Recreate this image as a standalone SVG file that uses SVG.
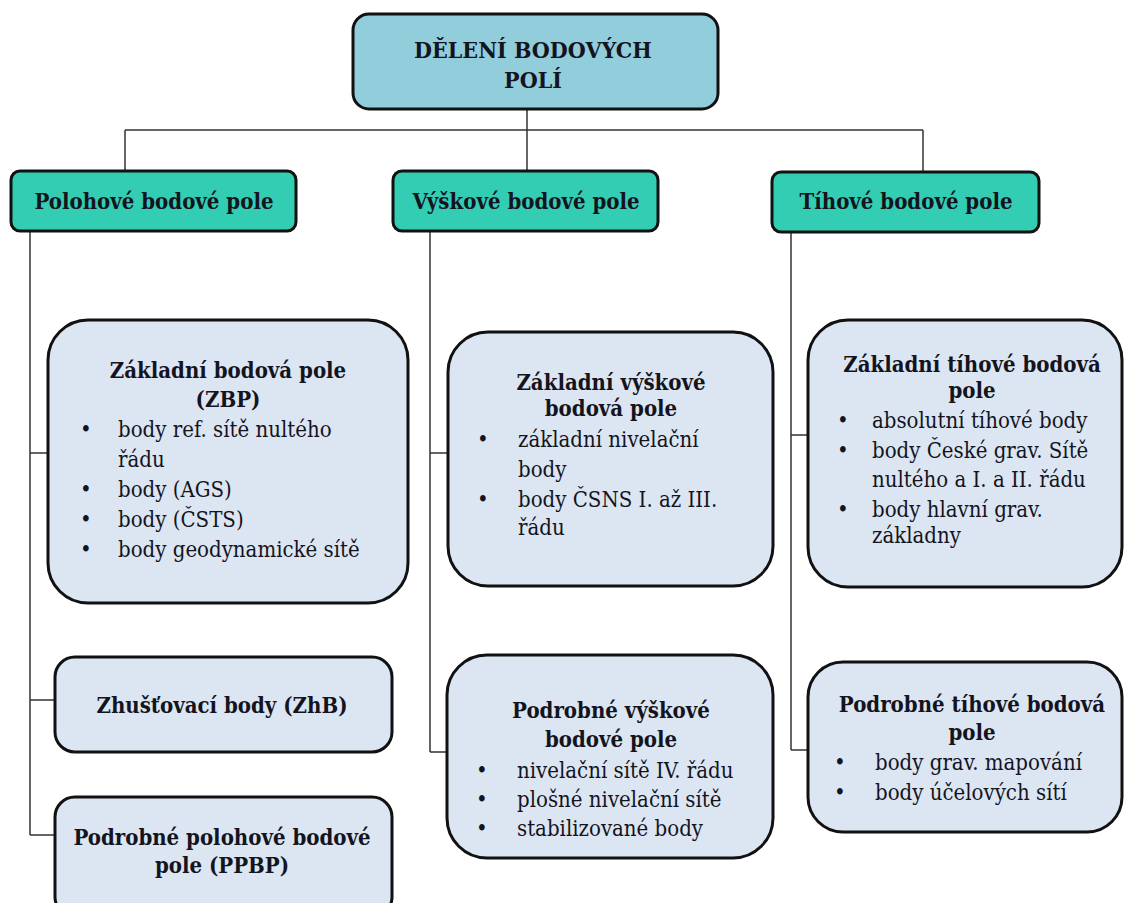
<svg xmlns="http://www.w3.org/2000/svg" width="1129" height="903" viewBox="0 0 1129 903">
<style>
.t{fill:#14141e;font-family:'DejaVu Serif Condensed','DejaVu Serif','Liberation Serif',serif}
.b{font-weight:bold;font-size:22px;text-anchor:middle}
.h{font-size:23px}
.r{font-size:22px}
.top{fill:#92cddc;stroke:#111;stroke-width:3}
.hdr{fill:#33cdb4;stroke:#111;stroke-width:3}
.box{fill:#dce6f2;stroke:#111;stroke-width:3}
.con{fill:none;stroke:#333;stroke-width:1.5}
</style>
<rect width="1129" height="903" fill="#fff"/>
<g id="connectors">
<path class="con" d="M527,110 V171 M125,130 H923 M125,130 V171 M923,130 V172"/>
<path class="con" d="M30,231 V835 M30,453 H48 M30,700 H55 M30,835 H55"/>
<path class="con" d="M430,231 V752 M430,453 H448 M430,752 H447"/>
<path class="con" d="M791,233 V750 M791,435 H808 M791,750 H808"/>
</g>
<g id="root">
<rect class="top" x="353" y="14" width="365" height="95" rx="16"/>
<text class="t b h" x="533" y="58">DĚLENÍ BODOVÝCH</text>
<text class="t b h" x="533" y="88">POLÍ</text>
</g>
<g id="polohove">
<rect class="hdr" x="11" y="171" width="285" height="60" rx="9"/>
<text class="t b" x="154" y="209">Polohové bodové pole</text>
</g>
<g id="vyskove">
<rect class="hdr" x="393" y="171" width="265" height="60" rx="9"/>
<text class="t b" x="526" y="209">Výškové bodové pole</text>
</g>
<g id="tihove">
<rect class="hdr" x="772" y="172" width="267" height="60" rx="9"/>
<text class="t b" x="906" y="209">Tíhové bodové pole</text>
</g>
<g id="zbp">
<rect class="box" x="48" y="320" width="360" height="283" rx="40"/>
<text class="t b" x="228" y="378">Základní bodová pole</text>
<text class="t b" x="228" y="407">(ZBP)</text>
<text class="t r" x="80" y="437">•</text><text class="t r" x="118" y="437">body ref. sítě nultého</text>
<text class="t r" x="118" y="467">řádu</text>
<text class="t r" x="80" y="497">•</text><text class="t r" x="118" y="497">body (AGS)</text>
<text class="t r" x="80" y="527">•</text><text class="t r" x="118" y="527">body (ČSTS)</text>
<text class="t r" x="80" y="557">•</text><text class="t r" x="118" y="557">body geodynamické sítě</text>
</g>
<g id="zhb">
<rect class="box" x="55" y="657" width="337" height="95" rx="20"/>
<text class="t b" x="222" y="713">Zhušťovací  body (ZhB)</text>
</g>
<g id="ppbp">
<rect class="box" x="55" y="797" width="337" height="120" rx="20"/>
<text class="t b" x="222" y="845">Podrobné polohové bodové</text>
<text class="t b" x="222" y="873">pole (PPBP)</text>
</g>
<g id="zvbp">
<rect class="box" x="448" y="332" width="325" height="254" rx="40"/>
<text class="t b" x="611" y="390">Základní výškové</text>
<text class="t b" x="611" y="416">bodová pole</text>
<text class="t r" x="477" y="447">•</text><text class="t r" x="518" y="447">základní nivelační</text>
<text class="t r" x="518" y="477">body</text>
<text class="t r" x="477" y="507">•</text><text class="t r" x="518" y="507">body ČSNS I. až III.</text>
<text class="t r" x="518" y="535">řádu</text>
</g>
<g id="pvbp">
<rect class="box" x="447" y="655" width="326" height="203" rx="40"/>
<text class="t b" x="611" y="718">Podrobné výškové</text>
<text class="t b" x="611" y="747">bodové pole</text>
<text class="t r" x="476" y="778">•</text><text class="t r" x="517" y="778">nivelační sítě IV. řádu</text>
<text class="t r" x="476" y="807">•</text><text class="t r" x="517" y="807">plošné nivelační sítě</text>
<text class="t r" x="476" y="836">•</text><text class="t r" x="517" y="836">stabilizované body</text>
</g>
<g id="ztbp">
<rect class="box" x="808" y="320" width="314" height="267" rx="40"/>
<text class="t b" x="972" y="372">Základní tíhové bodová</text>
<text class="t b" x="972" y="398">pole</text>
<text class="t r" x="837" y="428">•</text><text class="t r" x="872" y="428">absolutní tíhové body</text>
<text class="t r" x="837" y="458">•</text><text class="t r" x="872" y="458">body České  grav. Sítě</text>
<text class="t r" x="872" y="487">nultého  a I. a II. řádu</text>
<text class="t r" x="837" y="517">•</text><text class="t r" x="872" y="517">body hlavní grav.</text>
<text class="t r" x="872" y="543">základny</text>
</g>
<g id="ptbp">
<rect class="box" x="808" y="662" width="314" height="170" rx="35"/>
<text class="t b" x="972" y="712">Podrobné tíhové bodová</text>
<text class="t b" x="972" y="740">pole</text>
<text class="t r" x="834" y="770">•</text><text class="t r" x="875" y="770">body grav. mapování</text>
<text class="t r" x="834" y="800">•</text><text class="t r" x="875" y="800">body účelových  sítí</text>
</g>
</svg>
